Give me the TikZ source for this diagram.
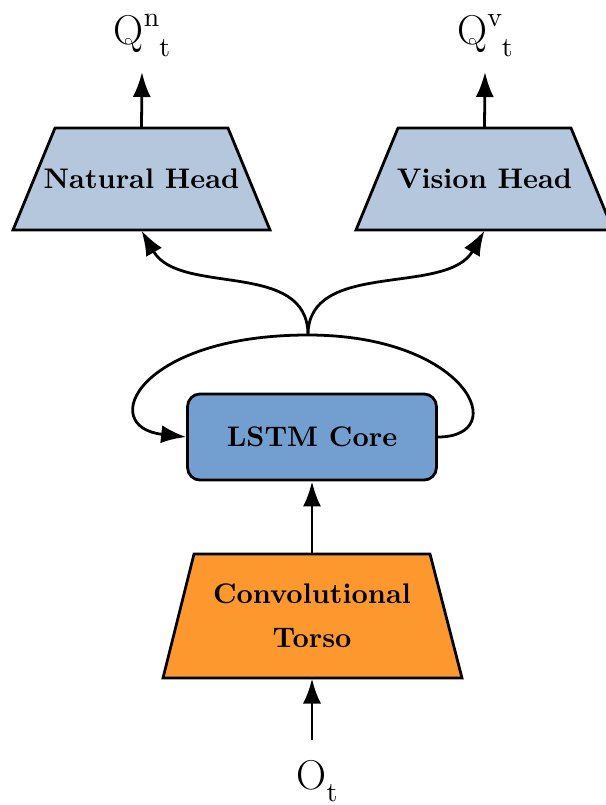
\documentclass[tikz,border=0pt]{standalone}
\usepackage{fontspec}
\usetikzlibrary{arrows.meta}
\definecolor{headblue}{RGB}{180,199,220}
\definecolor{coreblue}{RGB}{114,159,207}
\definecolor{torsoorange}{RGB}{252,152,45}
\newcommand{\supsub}[2]{\raisebox{6.5pt}{\fontsize{10}{12}\selectfont #1}\raisebox{-4.3pt}{\fontsize{10}{12}\selectfont #2}}
\begin{document}
\begin{tikzpicture}[x=0.36pt,y=-0.36pt,
  arr/.style={-{Latex[length=9pt,width=6.5pt]},line width=1pt},
  boxfont/.style={font=\fontsize{10.2}{15.8}\selectfont\bfseries},
  outline/.style={draw, line width=1pt, line join=miter},
  textbox/.style={rectangle, inner sep=0pt, align=center, boxfont},
  coreshape/.style={rectangle, rounded corners=4.5pt, draw, line width=1pt,
    fill=coreblue, minimum width=89.6pt, minimum height=31pt, inner sep=0pt, boxfont},
  lbl/.style={font=\fontsize{15}{18}\selectfont, inner xsep=0pt}
]
\useasboundingbox (0,0) rectangle (605,805);

% trapezoid outlines
\path[outline, fill=headblue] (55,128) -- (228,128) -- (270,230) -- (13,230) -- cycle;
\path[outline, fill=headblue] (398,128) -- (571,128) -- (613,230) -- (356,230) -- cycle;
\path[outline, fill=torsoorange] (194,554) -- (430,554) -- (462,678) -- (163,678) -- cycle;

\node[textbox, minimum width=60pt, minimum height=36.7pt] (nh) at (141.5,179) {Natural Head};
\node[textbox, minimum width=60pt, minimum height=36.7pt] (vh) at (484.5,179) {Vision Head};
\node[textbox, minimum width=80pt, minimum height=44.6pt] (torso) at (312,616) {Convolutional\\Torso};
\node[coreshape] (lstm) at (312,437) {LSTM Core};

\node[lbl, anchor=south, inner ysep=5.4pt] (qn) at (142,72) {Q\supsub{n}{t}};
\node[lbl, anchor=south, inner ysep=5.4pt] (qv) at (485,72) {Q\supsub{v}{t}};
\node[lbl, anchor=north, inner ysep=7pt] (ot) at (317,740)
  {O\raisebox{-4.3pt}{\fontsize{10}{12}\selectfont t}};

\coordinate (j) at (308,335);

\draw[arr] (nh.north) -- (qn.south);
\draw[arr] (vh.north) -- (qv.south);
\draw[arr] (torso.south |- ot.north) -- (torso.south);
\draw[arr] (torso.north) -- (lstm.south);
\draw[arr] (lstm.east) .. controls +(75,0) and +(160,0) .. (j)
  .. controls +(-170,0) and +(-90,-10) .. (lstm.west);
\draw[arr] (j) .. controls +(0,-76) and +(38,66) .. (nh.south);
\draw[arr] (j) .. controls +(0,-76) and +(-38,66) .. (vh.south);
\end{tikzpicture}
\end{document}
